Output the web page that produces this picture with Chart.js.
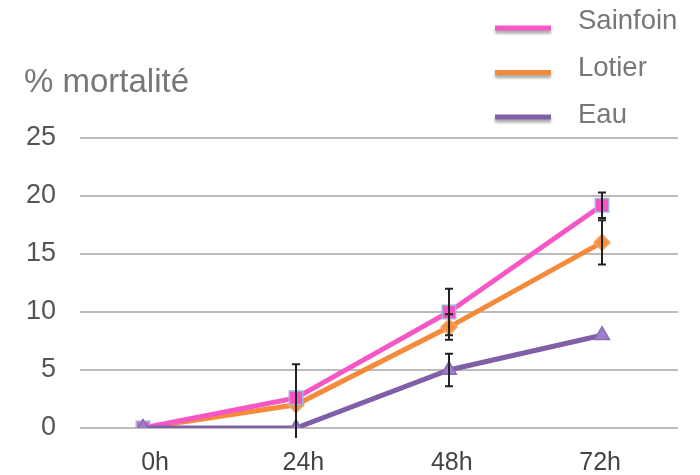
<!DOCTYPE html>
<html>
<head>
<meta charset="utf-8">
<script src="https://cdn.jsdelivr.net/npm/chart.js@4/dist/chart.umd.min.js"></script>
<style>
  html, body { margin: 0; padding: 0; background: #fff; }
  #wrap { width: 700px; height: 475px; position: relative; }
</style>
</head>
<body>
<div id="wrap"><canvas id="c" width="700" height="475"></canvas></div>
<script>
// Time points (hours) and their labels
const timeLabels = ['0h', '24h', '48h', '72h'];
const hours = [0, 24, 48, 72];

// Mortality (%) per treatment
const seriesNames = ['Sainfoin', 'Lotier', 'Eau'];
const sainfoin = [0, 2.6, 10.0, 19.2];
const lotier   = [0, 2.0, 8.7, 16.0];
const eau      = [0, 0, 5.0, 8.0];

// Error (± value) per treatment
const sainfoinErr = [0, 0, 2.0, 1.1];
const lotierErr   = [0, 3.5, 1.1, 1.9];
const eauErr      = [0, 0, 1.4, 0];

// Y axis tick values
const yTicks = [0, 5, 10, 15, 20, 25];

const FONT = '"Liberation Sans", Arial, Helvetica, sans-serif';
const lineColors = ['#f756c6', '#f48a3a', '#7f5fa6'];

function pts(values) {
  return values.map((v, i) => ({ x: hours[i], y: v }));
}

// Vertical error bars with caps, drawn over the lines
const errorBars = {
  id: 'errorBars',
  afterDatasetsDraw(chart) {
    const ctx = chart.ctx;
    const area = chart.chartArea;
    const y = chart.scales.y;
    ctx.save();
    ctx.beginPath();
    ctx.rect(area.left - 20, 0, area.right - area.left + 40, area.bottom + 10);
    ctx.clip();
    ctx.strokeStyle = '#222';
    ctx.lineWidth = 2;
    chart.data.datasets.forEach((ds, i) => {
      const meta = chart.getDatasetMeta(i);
      ds.errors.forEach((e, j) => {
        if (!e) return;
        const v = ds.data[j].y;
        const px = meta.data[j].x;
        const top = y.getPixelForValue(v + e);
        const bot = y.getPixelForValue(v - e);
        ctx.beginPath();
        ctx.moveTo(px, top); ctx.lineTo(px, bot);
        ctx.moveTo(px - 4, top); ctx.lineTo(px + 4, top);
        ctx.moveTo(px - 4, bot); ctx.lineTo(px + 4, bot);
        ctx.stroke();
      });
    });
    ctx.restore();
  }
};

// Axis caption and the line legend at the top
const annotations = {
  id: 'annotations',
  afterDraw(chart) {
    const ctx = chart.ctx;
    ctx.save();
    ctx.fillStyle = '#777';
    ctx.font = '33px ' + FONT;
    ctx.textAlign = 'left';
    ctx.textBaseline = 'alphabetic';
    ctx.fillText('% mortalité', 24, 92);

    chart.data.datasets.forEach((ds, i) => {
      const ly = 28 + i * 44.5;
      ctx.save();
      ctx.shadowColor = 'rgba(0,0,0,0.35)';
      ctx.shadowOffsetY = 3;
      ctx.shadowBlur = 3;
      ctx.strokeStyle = ds.borderColor;
      ctx.lineWidth = 5;
      ctx.beginPath();
      ctx.moveTo(495, ly);
      ctx.lineTo(551, ly);
      ctx.stroke();
      ctx.restore();
      ctx.fillStyle = '#777';
      ctx.font = '27.5px ' + FONT;
      ctx.fillText(ds.label, 578, 29 + i * 47);
    });
    ctx.restore();
  }
};

new Chart(document.getElementById('c'), {
  type: 'line',
  data: {
    datasets: [
      {
        label: seriesNames[0], data: pts(sainfoin), errors: sainfoinErr,
        borderColor: lineColors[0], borderWidth: 5,
        pointStyle: 'rect', pointRadius: 9.5,
        pointBackgroundColor: '#f654c4', pointBorderColor: '#9ab8d8', pointBorderWidth: 1.5,
        order: 1
      },
      {
        label: seriesNames[1], data: pts(lotier), errors: lotierErr,
        borderColor: lineColors[1], borderWidth: 5,
        pointStyle: 'rectRot', pointRadius: 8,
        pointBackgroundColor: '#f79040', pointBorderColor: '#f5a866', pointBorderWidth: 1.5,
        order: 2
      },
      {
        label: seriesNames[2], data: pts(eau), errors: eauErr,
        borderColor: lineColors[2], borderWidth: 5,
        pointStyle: 'triangle', pointRadius: 8.5,
        pointBackgroundColor: '#9a80c8', pointBorderColor: '#8a6cb4', pointBorderWidth: 1.5,
        order: 0
      }
    ]
  },
  options: {
    responsive: false,
    animation: false,
    devicePixelRatio: 1,
    layout: { padding: { top: 138, right: 22, left: 0, bottom: 0 } },
    plugins: { legend: { display: false }, tooltip: { enabled: false } },
    elements: { line: { tension: 0 } },
    scales: {
      x: {
        type: 'linear', min: -9.88, max: 83.92, display: false
      },
      xl: {
        type: 'linear', axis: 'x', position: 'bottom',
        min: -12.14, max: 84.6,
        afterBuildTicks(scale) { scale.ticks = hours.map(h => ({ value: h })); },
        afterFit(scale) { scale.height = 47; },
        grid: { display: false, drawTicks: false },
        border: { display: false },
        ticks: {
          color: '#444', font: { family: FONT, size: 25 }, padding: 20,
          maxRotation: 0, autoSkip: false,
          callback: (v) => timeLabels[hours.indexOf(v)]
        }
      },
      y: {
        min: 0, max: 25,
        afterBuildTicks(scale) { scale.ticks = yTicks.map(v => ({ value: v })); },
        afterFit(scale) { scale.width = 80; },
        grid: { color: '#bcbcbc', lineWidth: 2, drawTicks: false },
        border: { display: false },
        ticks: { color: '#555', font: { family: FONT, size: 27 }, padding: 24 }
      }
    }
  },
  plugins: [errorBars, annotations]
});
</script>
</body>
</html>
